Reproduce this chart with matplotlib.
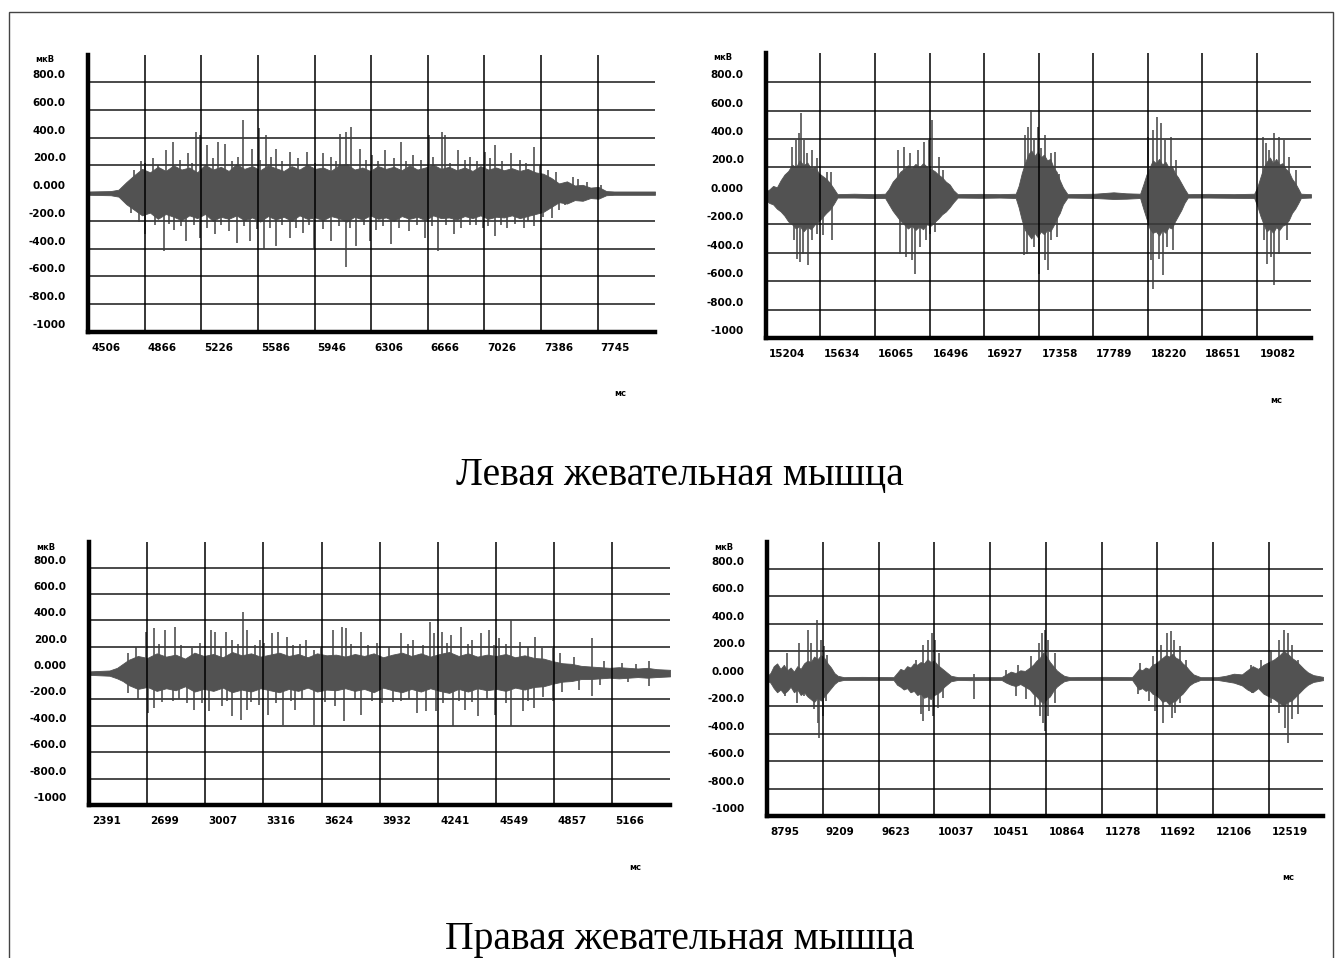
import matplotlib
matplotlib.use('Agg')
import matplotlib.pyplot as plt
import matplotlib.transforms as mtransforms
from matplotlib.patches import Rectangle

plt.rcParams['font.family'] = ['DejaVu Sans']

# --- common y scale (мкВ) ---
y_ticks = [800, 600, 400, 200, 0, -200, -400, -600, -800, -1000]
y_labels = ['800.0', '600.0', '400.0', '200.0', '0.000',
            '-200.0', '-400.0', '-600.0', '-800.0', '-1000']

# --- panel 1: left muscle, continuous chewing ---
p1_xticks = [4506, 4866, 5226, 5586, 5946, 6306, 6666, 7026, 7386, 7745]
p1_env_t = [4506, 4650, 4700, 4750,
            4800, 4850, 4900, 4950, 5000, 5050, 5100, 5150, 5200, 5250,
            5300, 5350, 5400, 5450, 5500, 5550, 5600, 5650, 5700, 5750,
            5800, 5850, 5900, 5950, 6000, 6050, 6100, 6150, 6200, 6250,
            6300, 6350, 6400, 6450, 6500, 6550, 6600, 6650, 6700, 6750,
            6800, 6850, 6900, 6950, 7000, 7050, 7100, 7150, 7200, 7250,
            7300, 7350, 7400, 7450, 7500, 7550, 7600, 7650, 7700, 7750, 7800,
            7850, 8110]
p1_env_hi = [12, 15, 25, 80,
             130, 175, 150, 190, 160, 200, 170, 185, 150, 205,
             170, 190, 160, 210, 175, 195, 165, 200, 180, 160,
             195, 170, 205, 175, 185, 160, 200, 210, 170, 185,
             160, 195, 175, 190, 165, 200, 170, 185, 205, 175,
             190, 165, 185, 160, 195, 170, 185, 165, 180, 160,
             175, 150, 140, 110, 70, 85, 55, 60, 40, 45, 15,
             12, 12]
p1_env_lo = [-12, -15, -25, -80,
             -120, -160, -140, -185, -150, -170, -195, -160, -180, -150,
             -200, -170, -185, -160, -195, -175, -205, -165, -190, -170,
             -200, -160, -185, -175, -195, -165, -180, -205, -170, -190,
             -160, -185, -175, -200, -165, -185, -170, -195, -160, -180,
             -175, -190, -165, -180, -160, -185, -170, -175, -160, -180,
             -165, -150, -135, -100, -65, -75, -50, -55, -35, -40, -15,
             -12, -12]
p1_spikes = [(4870, 214), (5000, 309), (5047, 369), (5143, 286), (5195, 440), (5221, 416),
             (5260, 345), (5330, 369), (5377, 357), (5494, 524), (5546, 321), (5590, 470),
             (5637, 416), (5702, 321), (5793, 297), (5897, 297), (6001, 286), (6110, 428),
             (6144, 440), (6178, 476), (6235, 321), (6313, 274), (6391, 309), (6495, 369),
             (6573, 274), (6672, 416), (6755, 440), (6776, 416), (6859, 309), (6937, 262),
             (7028, 297), (7093, 345), (7197, 286), (7340, 333), (7431, 167), (7587, 119),
             (7678, 83), (7769, 60),
             (4800, 170), (4840, 230), (4920, 250), (4950, 200), (5090, 240), (5170, 220),
             (5300, 250), (5420, 230), (5460, 260), (5600, 240), (5670, 260), (5740, 230),
             (5840, 250), (5950, 220), (6050, 260), (6080, 230), (6270, 240), (6350, 230),
             (6450, 250), (6530, 230), (6620, 240), (6700, 260), (6810, 220), (6900, 240),
             (6980, 230), (7060, 250), (7140, 230), (7250, 240), (7290, 220), (7380, 200),
             (7480, 150), (7620, 100),
             (4779, -143), (4870, -297), (4987, -416), (5052, -262), (5130, -345), (5221, -321),
             (5312, -297), (5403, -274), (5455, -357), (5533, -345), (5624, -405), (5702, -381),
             (5793, -321), (5871, -286), (5944, -405), (6053, -345), (6144, -535), (6209, -381),
             (6300, -345), (6339, -262), (6430, -369), (6547, -274), (6651, -321), (6729, -416),
             (6833, -297), (6937, -226), (7015, -250), (7093, -309), (7171, -250), (7275, -250),
             (7340, -238), (7457, -178), (7535, -83), (7587, -60),
             (4830, -210), (4930, -230), (5020, -220), (5100, -240), (5180, -230), (5260, -250),
             (5350, -230), (5500, -240), (5580, -260), (5660, -250), (5740, -230), (5830, -250),
             (5910, -230), (6000, -260), (6100, -240), (6170, -250), (6260, -230), (6380, -240),
             (6480, -250), (6600, -230), (6690, -240), (6780, -230), (6880, -250), (6970, -230),
             (7050, -240), (7130, -230), (7220, -220), (7300, -200), (7400, -170), (7500, -120)]

# --- panel 2: left muscle, five chewing bursts ---
p2_xticks = [15204, 15634, 16065, 16496, 16927, 17358, 17789, 18220, 18651, 19082]
p2_env_t = [15204, 15230, 15260, 15290, 15320, 15350, 15380, 15410, 15440, 15470,
            15500, 15530, 15560, 15590, 15620, 15650, 15680, 15710, 15740, 15768,
            15900, 16050,
            16145, 16175, 16205, 16235, 16265, 16295, 16325, 16355, 16385, 16415,
            16445, 16475, 16505, 16535, 16565, 16595, 16625, 16655, 16685, 16718,
            16900, 17050,
            17177, 17200, 17225, 17250, 17275, 17300, 17325, 17350, 17375, 17400,
            17425, 17450, 17475, 17500, 17525, 17550, 17586,
            17800, 17950, 18050,
            18160, 18185, 18210, 18235, 18260, 18285, 18310, 18335, 18360, 18385,
            18410, 18435, 18460, 18485, 18510, 18537,
            18700, 18900,
            19061, 19085, 19110, 19135, 19160, 19185, 19210, 19235, 19260, 19285,
            19310, 19335, 19360, 19385, 19410, 19430, 19510]
p2_env_hi = [30, 45, 70, 60, 110, 150, 175, 220, 200, 250,
             215, 235, 190, 205, 160, 140, 120, 90, 50, 12,
             15, 12,
             15, 50, 100, 130, 170, 190, 215, 195, 225, 200,
             230, 205, 190, 175, 150, 130, 100, 80, 40, 12,
             14, 12,
             15, 70, 160, 230, 290, 320, 280, 310, 270, 290,
             250, 260, 200, 170, 110, 60, 12,
             15, 25, 18,
             15, 80, 150, 200, 250, 230, 260, 220, 240, 200,
             210, 160, 130, 90, 50, 12,
             14, 12,
             15, 60, 130, 200, 240, 270, 230, 260, 220, 230,
             190, 170, 120, 90, 50, 15, 12]
p2_env_lo = [-30, -50, -60, -90, -110, -140, -180, -200, -230, -210,
             -250, -220, -235, -200, -180, -150, -120, -95, -55, -12,
             -12, -15,
             -15, -60, -105, -140, -175, -200, -230, -210, -240, -215,
             -235, -200, -210, -185, -160, -130, -110, -80, -45, -12,
             -14, -12,
             -15, -80, -170, -240, -270, -300, -260, -290, -250, -270,
             -240, -250, -210, -160, -120, -60, -12,
             -15, -22, -20,
             -15, -90, -160, -230, -260, -250, -280, -240, -260, -220,
             -230, -180, -140, -100, -50, -12,
             -12, -14,
             -15, -70, -140, -200, -250, -230, -260, -220, -240, -210,
             -200, -170, -120, -90, -50, -15, -12]
p2_spikes = [(15407, 345), (15440, 392), (15463, 439), (15483, 580), (15505, 392), (15528, 298),
             (15571, 322), (15604, 263), (15686, 169), (15718, 169),
             (15424, -313), (15450, -442), (15473, -465), (15496, -407), (15538, -489),
             (15571, -313), (15604, -266), (15653, -277), (15725, -313),
             (16243, 322), (16292, 345), (16341, 298), (16407, 322), (16456, 381), (16489, 392),
             (16515, 533), (16571, 275), (16603, 181),
             (16259, -407), (16308, -430), (16357, -454), (16384, -548), (16423, -360),
             (16472, -313), (16498, -266), (16538, -254),
             (17252, 428), (17275, 486), (17298, 604), (17324, 392), (17350, 486), (17373, 334),
             (17406, 428), (17455, 298), (17488, 310), (17521, 157),
             (17242, -418), (17265, -407), (17324, -360), (17357, -548), (17406, -454),
             (17432, -524), (17455, -313), (17504, -289),
             (18225, 416), (18258, 463), (18291, 557), (18324, 510), (18356, 392), (18406, 416),
             (18445, 251),
             (18242, -454), (18265, -653), (18307, -442), (18340, -559), (18373, -360), (18422, -383),
             (19127, 416), (19153, 369), (19176, 322), (19218, 439), (19258, 416), (19297, 392),
             (19340, 275), (19389, 181),
             (19136, -313), (19159, -477), (19192, -430), (19218, -630), (19258, -407), (19323, -313)]

# --- panel 3: right muscle, continuous chewing ---
p3_xticks = [2391, 2699, 3007, 3316, 3624, 3932, 4241, 4549, 4857, 5166]
p3_env_t = [2391, 2500, 2540, 2570,
            2600, 2650, 2700, 2750, 2800, 2850, 2900, 2950, 3000, 3050,
            3100, 3150, 3200, 3250, 3300, 3350, 3400, 3450, 3500, 3550,
            3600, 3650, 3700, 3750, 3800, 3850, 3900, 3950, 4000, 4050,
            4100, 4150, 4200, 4250, 4300, 4350, 4400, 4450, 4500, 4550,
            4600, 4650, 4700, 4750, 4800, 4850, 4900, 4950,
            5000, 5050, 5100, 5150, 5200, 5250, 5300, 5350, 5400, 5471]
p3_env_hi = [13, 20, 40, 70,
             100, 130, 115, 150, 125, 140, 110, 155, 130, 145,
             120, 160, 135, 150, 125, 140, 155, 130, 145, 120,
             150, 135, 140, 125, 145, 130, 150, 120, 140, 155,
             130, 150, 125, 145, 160, 130, 150, 125, 140, 130,
             145, 120, 135, 115, 110, 90, 75, 70,
             55, 50, 45, 40, 45, 40, 35, 40, 30, 25]
p3_env_lo = [-13, -20, -40, -60,
             -90, -120, -105, -135, -115, -130, -100, -140, -120, -135,
             -110, -145, -125, -140, -115, -130, -145, -120, -135, -110,
             -140, -125, -130, -115, -135, -120, -145, -110, -130, -145,
             -120, -140, -115, -135, -150, -120, -140, -115, -130, -120,
             -135, -110, -125, -105, -100, -80, -65, -60,
             -45, -45, -40, -35, -40, -35, -30, -35, -30, -25]
p3_spikes = [(2599, 151), (2692, 315), (2737, 340), (2793, 328), (2849, 353), (2938, 189),
             (3038, 328), (3061, 315), (3116, 315), (3150, 252), (3206, 466), (3228, 328),
             (3295, 252), (3362, 302), (3395, 315), (3440, 277), (3540, 252), (3585, 176),
             (3686, 328), (3730, 353), (3753, 340), (3835, 315), (3920, 227), (4043, 302),
             (4110, 252), (4199, 391), (4221, 302), (4261, 315), (4311, 290), (4362, 353),
             (4422, 252), (4467, 302), (4511, 328), (4567, 265), (4630, 403), (4674, 239),
             (4757, 277), (4853, 189), (5058, 265), (5214, 76), (5360, 88),
             (2640, 200), (2760, 220), (2880, 210), (2980, 230), (3090, 200), (3180, 220),
             (3270, 210), (3320, 230), (3470, 210), (3510, 220), (3620, 200), (3780, 220),
             (3870, 210), (3980, 200), (4080, 220), (4160, 210), (4290, 230), (4400, 220),
             (4540, 210), (4600, 220), (4720, 200), (4790, 190), (4890, 150), (4960, 120),
             (5120, 90), (5290, 70),
             (2599, -151), (2703, -302), (2737, -265), (2837, -214), (2911, -227), (2945, -277),
             (3027, -290), (3094, -252), (3150, -328), (3195, -353), (3228, -277), (3290, -239),
             (3340, -315), (3418, -391), (3485, -277), (3585, -391), (3697, -252), (3741, -365),
             (3835, -315), (3942, -227), (4043, -214), (4132, -302), (4177, -290), (4232, -290),
             (4322, -403), (4384, -277), (4451, -328), (4545, -315), (4630, -403), (4690, -290),
             (4750, -265), (4853, -214), (4991, -126), (5058, -176), (5360, -101),
             (2650, -200), (2780, -220), (2870, -200), (2990, -230), (3120, -210), (3250, -220),
             (3380, -230), (3460, -210), (3520, -200), (3640, -220), (3800, -200), (3890, -210),
             (4000, -220), (4090, -200), (4270, -230), (4350, -210), (4420, -220), (4500, -200),
             (4600, -230), (4720, -210), (4800, -180), (4900, -140), (5100, -90), (5250, -70)]

# --- panel 4: right muscle, five chewing bursts ---
p4_xticks = [8795, 9209, 9623, 10037, 10451, 10864, 11278, 11692, 12106, 12519]
p4_env_t = [8795, 8820, 8845, 8870, 8895, 8920, 8945, 8970, 8995, 9020, 9045, 9070,
            9095, 9120, 9145, 9170, 9195, 9220, 9245, 9270, 9295, 9320, 9365,
            9500,
            9734, 9760, 9785, 9810, 9835, 9860, 9885, 9910, 9935, 9960, 9985, 10010,
            10035, 10060, 10085, 10110, 10135, 10160, 10212,
            10300,
            10535, 10570, 10605, 10640, 10675, 10710, 10745, 10770, 10795, 10820,
            10845, 10870, 10895, 10920, 10945, 10970, 11000, 11043,
            11300,
            11505, 11530, 11555, 11580, 11605, 11630, 11655, 11680, 11705, 11730,
            11755, 11780, 11805, 11830, 11855, 11880, 11905, 11930, 11960, 12013,
            12050,
            12137, 12200, 12260, 12320, 12360, 12400, 12440, 12480, 12520, 12560,
            12600, 12630, 12660, 12690, 12720, 12750, 12780, 12810, 12850, 12922]
p4_env_hi = [15, 40, 90, 110, 70, 100, 60, 80, 50, 90, 70, 110,
             130, 120, 160, 140, 170, 150, 110, 80, 40, 20, 10,
             12,
             10, 40, 70, 60, 90, 80, 110, 100, 120, 110, 140, 120,
             130, 100, 80, 60, 40, 20, 10,
             10,
             10, 30, 50, 40, 60, 55, 80, 100, 130, 150,
             190, 160, 120, 90, 60, 40, 20, 10,
             12,
             10, 40, 70, 60, 80, 70, 100, 110, 130, 150,
             170, 160, 180, 150, 140, 110, 90, 60, 30, 10,
             10,
             10, 20, 35, 30, 60, 90, 70, 100, 120, 140,
             170, 200, 180, 150, 130, 100, 70, 45, 25, 12]
p4_env_lo = [-15, -30, -70, -100, -80, -110, -90, -60, -100, -80, -120, -100,
             -130, -150, -170, -140, -160, -130, -100, -70, -40, -20, -10,
             -10,
             -10, -45, -60, -80, -70, -100, -90, -120, -110, -140, -130, -150,
             -120, -110, -90, -60, -40, -20, -10,
             -12,
             -10, -30, -45, -55, -40, -60, -80, -110, -130, -160,
             -180, -150, -130, -90, -60, -40, -20, -10,
             -10,
             -10, -45, -80, -70, -90, -80, -110, -120, -140, -170,
             -160, -190, -170, -160, -130, -110, -80, -50, -30, -10,
             -10,
             -10, -20, -30, -50, -80, -100, -70, -110, -130, -150,
             -180, -200, -170, -160, -130, -100, -70, -45, -25, -12]
p4_spikes = [(8943, 186), (9032, 258), (9103, 355), (9125, 258), (9168, 427), (9195, 283),
             (9217, 234), (9242, 174),
             (8927, -128), (9020, -176), (9072, -128), (9143, -225), (9174, -321), (9180, -430),
             (9211, -273), (9235, -164),
             (9904, 138), (9950, 246), (9987, 283), (10018, 331), (10042, 283), (10073, 186),
             (9935, -261), (9950, -309), (9996, -237), (10027, -273), (10067, -213), (10104, -140),
             (10335, -152), (10335, 30),
             (10566, 65), (10658, 101), (10751, 162), (10812, 258), (10837, 331), (10859, 355),
             (10880, 283), (10936, 186),
             (10643, -128), (10720, -152), (10782, -200), (10822, -273), (10843, -321),
             (10862, -382), (10880, -273), (10936, -176),
             (11567, 114), (11659, 162), (11721, 246), (11761, 331), (11792, 343), (11813, 283),
             (11860, 234), (11906, 138),
             (11552, -116), (11629, -164), (11675, -237), (11736, -321), (11798, -285),
             (11823, -249), (11860, -176),
             (12389, 101), (12460, 138), (12537, 210), (12599, 283), (12636, 355), (12660, 331),
             (12691, 246), (12737, 138),
             (12398, -104), (12537, -176), (12599, -249), (12639, -357), (12660, -466),
             (12691, -297), (12737, -261)]

W, H = 1342, 958
fig = plt.figure(figsize=(W / 100, H / 100), dpi=100)
fig.patch.set_facecolor('white')

sig_col = '#525252'


def panel(rect, xticks, xmax, ymax, env_t, env_hi, env_lo, spikes):
    l, t, r, b = rect
    ax = fig.add_axes([l / W, 1 - b / H, (r - l) / W, (b - t) / H])
    ax.set_xlim(xticks[0], xmax)
    ax.set_ylim(-1000, ymax)

    ax.fill_between(env_t, env_lo, env_hi, color=sig_col, lw=0.6, ec=sig_col, zorder=2)
    st = [s[0] for s in spikes]
    sv = [s[1] for s in spikes]
    ax.vlines(st, 0, sv, color=sig_col, lw=1.2, zorder=2)

    for v in y_ticks:
        if v not in (0, -1000):
            ax.axhline(v, color='#3a3a3a', lw=1.3, zorder=3)
    for x in xticks[1:]:
        ax.axvline(x, color='black', lw=1.1, zorder=3)

    for side in ('top', 'right'):
        ax.spines[side].set_visible(False)
    for side in ('left', 'bottom'):
        ax.spines[side].set_linewidth(3.2)
        ax.spines[side].set_zorder(4)

    ax.set_yticks(y_ticks, y_labels)
    ax.set_xticks(xticks, [str(x) for x in xticks])
    ax.tick_params(axis='y', length=0, pad=16, labelsize=7.5)
    ax.tick_params(axis='x', length=0, pad=8, labelsize=7.5)
    up = mtransforms.ScaledTranslation(0, 0.08, fig.dpi_scale_trans)
    for lab in ax.get_yticklabels():
        lab.set_fontweight('bold')
        lab.set_transform(lab.get_transform() + up)
    right = mtransforms.ScaledTranslation(0.03, 0, fig.dpi_scale_trans)
    for lab in ax.get_xticklabels():
        lab.set_fontweight('bold')
        lab.set_horizontalalignment('left')
        lab.set_transform(lab.get_transform() + right)

    ax.annotate('мкВ', xy=(0, 1), xycoords='axes fraction', xytext=(-53, -5),
                textcoords='offset pixels', ha='left', va='center',
                fontsize=6, fontweight='bold')
    ax.annotate('мс', xy=(1, 0), xycoords='axes fraction', xytext=(-35, -62),
                textcoords='offset pixels', ha='center', va='center',
                fontsize=6, fontweight='bold')
    return ax


panel((88, 55, 655, 332), p1_xticks, 8110, 995, p1_env_t, p1_env_hi, p1_env_lo, p1_spikes)
panel((766, 53, 1311, 338), p2_xticks, 19510, 1005, p2_env_t, p2_env_hi, p2_env_lo, p2_spikes)
panel((89, 542, 670, 805), p3_xticks, 5471, 994, p3_env_t, p3_env_hi, p3_env_lo, p3_spikes)
panel((767, 542, 1323, 816), p4_xticks, 12922, 993, p4_env_t, p4_env_hi, p4_env_lo, p4_spikes)

fig.text(680 / W, 1 - 475 / H, 'Левая жевательная мышца', ha='center', va='center',
         family='Liberation Serif', fontsize=28.5)
fig.text(680 / W, 1 - 940 / H, 'Правая жевательная мышца', ha='center', va='center',
         family='Liberation Serif', fontsize=28.5)

fig.add_artist(Rectangle((9 / W, -0.01), (1333 - 9) / W, 1 - 12 / H + 0.01,
                         transform=fig.transFigure, fill=False, lw=1.0, ec='#444444'))

fig.savefig('out.png', dpi=100, facecolor='white')
